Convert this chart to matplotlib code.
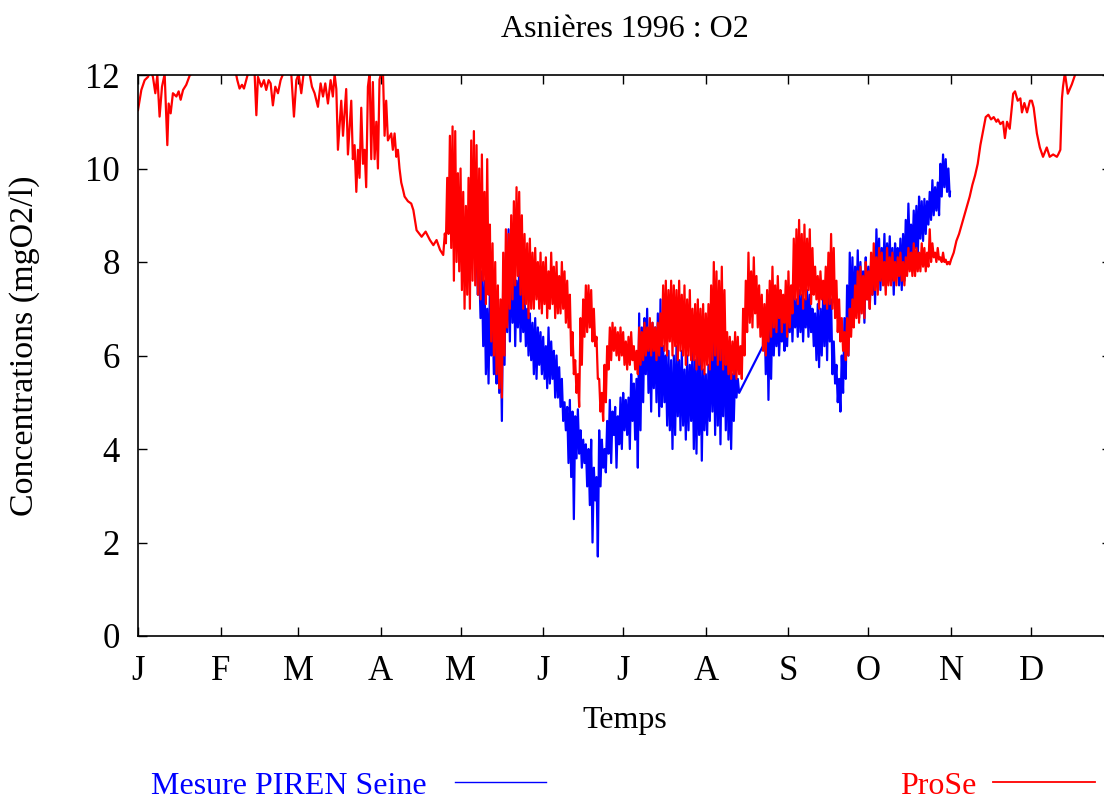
# Asnières 1996 : dissolved oxygen, PIREN Seine measurements vs ProSe model
import numpy as np
import matplotlib.pyplot as plt
from matplotlib.lines import Line2D

plt.rcParams['font.family'] = ['Liberation Serif', 'DejaVu Serif']

# month ticks (day of year 1996, leap year)
month_days = [0, 31, 60, 91, 121, 152, 182, 213, 244, 274, 305, 335]
month_labels = ['J', 'F', 'M', 'A', 'M', 'J', 'J', 'A', 'S', 'O', 'N', 'D']

# ProSe, winter / early spring (day, mgO2/l)
red_early_days = [0, 1.25, 2.5, 3.75, 4.75, 5.6, 6.5, 7.25, 8.1, 9, 10, 11, 11.5, 12.25,
                  13.1, 14.4, 15.25, 16, 16.9, 18.1, 19.4, 20, 21, 24, 28, 32, 33, 34,
                  36.5, 37.25, 38.1, 39, 39.75, 40.6, 41.25, 42.5, 43.75, 44.4, 45, 46.25,
                  47.25, 48.1, 49, 49.75, 50.6, 51.5, 52.5, 53.5, 54.4, 55.5, 57.5, 58.5,
                  59.4, 60.25, 61.25, 62.1, 63.2, 64.4, 65.25, 66.25, 67.5, 68.5, 69.4,
                  70.25, 71.25, 72.25, 73.1, 73.75, 74.4, 75.0, 76.25, 76.9, 78.1, 78.75,
                  80, 80.6, 81.25, 81.9, 82.5, 83.1, 83.75, 84.4, 85, 85.6, 86.25, 86.9,
                  87.5, 88.1, 88.75, 89.4, 90, 90.6, 91.25, 91.9, 92.5, 93.1, 93.75, 95,
                  95.6, 96.25, 96.9, 97.5, 98.1, 98.75, 99.4, 100, 101.25, 102.5, 103.3,
                  104.5, 106.4, 107.9, 109.5, 110.8, 112, 113.3, 114.5, 115.1, 115.5]
red_early_vals = [11.25, 11.68, 11.89, 11.96, 12.1, 11.96, 11.61, 12.0, 11.11, 11.75, 12.02,
                  10.5, 11.39, 11.18, 11.61, 11.54, 11.65, 11.47, 11.68, 11.79, 11.99, 12.02,
                  12.3, 12.5, 12.4, 12.3, 12.05, 12.3, 12.1, 11.89, 11.71, 11.79, 11.71,
                  11.89, 12.02, 12.3, 12.02, 11.14, 11.96, 11.75, 11.89, 11.68, 11.89, 11.82,
                  11.35, 11.75, 11.61, 11.89, 12.02, 12.3, 12.02, 11.11, 11.89, 12.02, 11.61,
                  12.02, 12.3, 12.02, 11.75, 11.61, 11.32, 11.82, 11.54, 11.82, 11.39, 11.89,
                  11.54, 12.02, 11.7, 10.4, 11.45, 10.7, 11.7, 10.3, 11.45, 10.2, 10.5, 9.5,
                  10.4, 9.8, 11.3, 10.1, 10.4, 9.6, 11.75, 12.05, 10.2, 11.85, 10.2, 11.0,
                  10.0, 11.9, 12.05, 12.05, 10.7, 11.45, 10.6, 10.75, 10.4, 10.75, 10.25,
                  10.4, 10.0, 9.7, 9.55, 9.4, 9.3, 9.25, 9.11, 8.68, 8.54, 8.65, 8.47, 8.36,
                  8.47, 8.26, 8.15, 8.61, 8.4]

# ProSe, days 116-304: daily high / low of the day-night cycle
red_first_day = 116
red_hi = [9.8, 10.7, 10.9, 10.8, 9.9, 10.0, 9.5, 9.2, 9.8, 10.6,
          10.8, 10.5, 10.0, 10.3, 9.5, 10.2, 8.8, 8.4, 8.0, 7.5,
          7.2, 8.2, 8.7, 8.6, 9.0, 9.3, 9.6, 9.5, 9.0, 8.6,
          8.4, 8.5, 8.2, 8.3, 8.0, 8.2, 8.0, 8.1, 7.8, 8.2,
          7.9, 8.0, 7.7, 8.0, 7.8, 7.6, 7.3, 6.5, 5.9, 5.6,
          6.8, 7.2, 7.5, 7.5, 7.4, 7.0, 6.4, 5.5, 5.2, 5.8,
          6.2, 6.6, 6.7, 6.6, 6.5, 6.6, 6.5, 6.3, 6.4, 6.5,
          6.2, 6.1, 6.6, 6.5, 6.7, 6.6, 6.8, 6.7, 6.6, 6.7,
          6.9, 7.5, 7.6, 7.4, 7.6, 7.5, 7.4, 7.6, 7.3, 7.5,
          7.2, 7.4, 7.0, 7.1, 7.2, 7.0, 7.1, 6.9, 7.1, 7.5,
          8.0, 7.8, 7.6, 7.9, 7.4, 6.5, 6.4, 6.3, 6.5, 6.4,
          6.2, 7.0, 7.6, 8.2, 7.8, 8.1, 7.7, 7.5, 7.3, 7.1,
          7.4, 7.6, 7.9, 7.5, 7.7, 7.4, 7.3, 7.6, 7.8, 7.5,
          8.5, 8.7, 8.9, 8.6, 8.8, 8.5, 8.7, 8.3, 7.9, 7.7,
          7.8, 7.6, 7.9, 8.2, 8.6, 8.3, 7.6, 7.2, 6.8, 6.5,
          6.8, 7.0, 7.2, 7.5, 7.8, 7.9, 7.7, 8.0, 7.8, 8.2,
          8.4, 8.1, 8.3, 8.2, 8.0, 8.3, 8.1, 8.2, 8.0, 8.1,
          8.2, 8.0, 8.1, 8.3, 8.2, 8.4, 8.3, 8.2, 8.4, 8.3,
          8.2, 8.7, 8.4, 8.2, 8.3, 8.1, 8.2, 8.05, 8.0]
red_lo = [8.6, 8.3, 7.6, 8.0, 7.8, 7.4, 7.0, 7.3, 7.0, 7.6,
          7.5, 7.3, 7.2, 7.6, 7.1, 7.3, 6.3, 6.0, 5.6, 5.3,
          5.1, 6.0, 6.6, 7.0, 7.2, 7.5, 7.7, 7.3, 7.0, 7.1,
          6.8, 7.0, 7.0, 7.2, 7.0, 6.9, 7.1, 6.8, 7.0, 7.1,
          6.8, 6.9, 6.9, 7.0, 6.7, 6.6, 6.0, 5.6, 5.2, 4.9,
          5.8, 6.4, 6.5, 6.6, 6.3, 6.2, 5.5, 4.8, 4.6, 5.0,
          5.7, 5.9, 6.1, 6.0, 5.9, 6.0, 5.8, 5.7, 5.8, 5.9,
          5.7, 5.6, 5.8, 5.9, 6.0, 6.1, 6.0, 6.1, 5.9, 6.0,
          6.2, 6.1, 6.0, 6.3, 6.0, 6.2, 5.9, 6.1, 6.0, 5.8,
          6.0, 5.9, 5.9, 5.7, 5.8, 5.7, 5.6, 5.8, 5.7, 5.9,
          6.0, 5.8, 5.9, 5.7, 5.8, 5.6, 5.5, 5.6, 5.5, 5.6,
          5.5, 6.0, 6.5, 6.7, 6.6, 6.9, 6.6, 6.4, 6.1, 6.0,
          6.3, 6.4, 6.6, 6.5, 6.8, 6.5, 6.7, 6.4, 6.6, 6.9,
          7.2, 7.1, 7.3, 7.0, 7.2, 7.4, 7.1, 7.3, 7.2, 7.0,
          7.2, 7.1, 7.0, 7.1, 7.0, 6.8, 6.5, 6.3, 6.1, 5.9,
          6.0, 6.4, 6.6, 6.8, 6.7, 6.9, 6.8, 7.2, 7.0, 7.3,
          7.4, 7.3, 7.6, 7.5, 7.3, 7.5, 7.5, 7.6, 7.5, 7.7,
          7.6, 7.5, 7.7, 7.8, 7.7, 7.7, 7.8, 7.8, 7.9, 7.8,
          7.9, 8.0, 8.1, 8.0, 8.05, 8.0, 8.0, 7.95, 7.95]

# ProSe, November / December
red_late_days = [305, 306, 307, 308, 309, 310, 311, 312, 313, 314, 315, 316, 317, 318, 319,
                 320, 321, 322, 322.6, 323.5, 324.5, 325.2, 326, 327, 328.3, 329, 330, 331,
                 331.6, 332.5, 333.5, 334.6, 335.3, 336, 337.2, 338.3, 339.5, 340.9, 342,
                 343.3, 344.7, 345.2, 346, 346.6, 347, 347.7, 348.8, 350.3, 351.5, 352.5,
                 355, 358, 361, 364]
red_late_vals = [8.05, 8.2, 8.45, 8.6, 8.8, 9.0, 9.2, 9.4, 9.65, 9.85, 10.1, 10.5, 10.8, 11.1,
                 11.15, 11.05, 11.1, 11.0, 11.05, 10.95, 11.0, 10.65, 11.0, 10.85, 11.6, 11.65,
                 11.45, 11.5, 11.2, 11.4, 11.2, 11.45, 11.45, 11.3, 10.75, 10.45, 10.25, 10.45,
                 10.25, 10.3, 10.25, 10.3, 10.4, 11.5, 11.75, 12.05, 11.6, 11.8, 12.0, 12.3,
                 12.5, 12.4, 12.6, 12.5]

# Mesure PIREN Seine: first reading, then daily high / low (two runs around a gap)
blue_start = (126.5, 8.0)
blue_first_day_a = 127
blue_hi_a = [8.2, 7.9, 7.8, 7.6, 7.0, 7.4, 7.0, 6.6, 7.2, 6.7,
             7.6, 8.2, 8.7, 8.4, 8.0, 7.6, 7.9, 7.5, 7.3, 7.0,
             6.9, 6.7, 6.8, 6.6, 6.5, 6.4, 6.2, 6.6, 6.3, 6.1,
             6.0, 5.75, 5.5, 5.0, 4.9, 5.05, 4.8, 4.7, 4.85, 4.4,
             4.2, 4.1, 4.0, 4.2, 3.6, 3.4, 4.4, 4.2, 4.0, 4.6,
             5.05, 4.8, 4.9, 4.7, 5.1, 5.2, 5.05, 5.1, 5.6, 5.4,
             5.5, 6.9, 6.6, 6.8, 7.0, 6.6, 6.7, 6.6, 6.9, 7.2,
             6.2, 6.0, 6.1, 5.9, 6.0, 6.2, 5.9, 6.1, 5.7, 6.0,
             5.8, 6.2, 5.9, 6.0, 6.1, 5.7, 5.6, 5.8, 6.3, 6.7,
             6.5, 6.4, 6.2, 6.75, 6.3, 5.7, 5.6, 5.7, 5.5]
blue_lo_a = [7.3, 6.8, 6.2, 5.6, 5.4, 6.0, 5.6, 5.4, 5.2, 4.6,
             5.8, 6.5, 6.3, 6.7, 6.2, 6.6, 6.3, 6.5, 6.2, 6.0,
             5.9, 5.6, 5.5, 5.8, 5.6, 5.5, 5.3, 5.4, 5.5, 5.1,
             5.1, 4.9, 4.6, 4.4, 3.7, 3.4, 2.5, 3.8, 3.9, 3.6,
             3.7, 3.2, 2.8, 2.0, 2.9, 1.7, 3.2, 3.6, 3.5, 3.9,
             3.7, 4.3, 3.6, 4.1, 4.0, 4.4, 4.3, 4.0, 4.6, 4.2,
             3.6, 4.4, 5.0, 5.6, 5.2, 4.8, 5.3, 5.0, 4.7, 4.9,
             5.0, 4.5, 4.4, 4.0, 4.3, 4.7, 4.4, 4.5, 4.2, 4.4,
             4.6, 4.0, 3.9, 4.3, 3.75, 4.4, 4.3, 4.6, 4.8, 4.3,
             4.5, 4.1, 4.7, 4.4, 4.2, 4.0, 4.6, 5.1, 5.2]
blue_restart = (234.4, 6.2)
blue_first_day_b = 235
blue_hi_b = [7.0, 7.2, 6.8, 7.1, 6.9, 7.0, 6.8, 6.7, 7.0, 7.2,
             7.4, 7.3, 7.2, 7.4, 7.3, 7.2, 7.4, 7.3, 7.0, 6.9,
             7.1, 7.0, 7.3, 7.5, 7.6, 7.2, 6.3, 5.8, 5.5, 6.0,
             6.8, 7.5, 8.2, 8.1, 7.9, 8.25, 8.0, 7.8, 8.1, 7.9,
             8.0, 8.2, 8.7, 8.5, 8.3, 8.6, 8.4, 8.55, 8.3, 8.4,
             8.3, 8.5, 8.6, 8.9, 9.25, 8.8, 9.1, 9.2, 9.4, 9.3,
             9.35, 9.3, 9.5, 9.75, 9.6, 9.7, 10.1, 10.3, 10.2, 10.0]
blue_lo_b = [5.6, 5.05, 5.5, 6.0, 6.2, 6.0, 6.3, 6.1, 6.2, 6.5,
             6.3, 6.6, 6.4, 6.5, 6.3, 6.6, 6.4, 6.5, 6.2, 5.9,
             5.75, 6.0, 6.2, 5.9, 6.3, 5.6, 5.4, 5.0, 4.8, 5.2,
             5.5, 6.0, 6.6, 6.7, 7.0, 6.8, 7.1, 6.7, 7.2, 7.0,
             7.3, 7.1, 7.6, 7.4, 7.6, 7.5, 7.7, 7.6, 7.3, 7.8,
             7.5, 7.4, 7.6, 8.0, 8.2, 8.1, 8.3, 8.0, 8.5, 8.45,
             8.6, 8.8, 8.9, 9.0, 9.1, 9.0, 9.4, 9.6, 9.5, 9.4]
blue_end = (304.6, 9.5)


def zigzag(first_day, hi, lo):
    # high at the start of each day, low half a day later
    d = first_day + np.arange(len(hi))
    x = np.column_stack([d, d + 0.5]).ravel()
    y = np.column_stack([hi, lo]).ravel()
    return x, y


rx, ry = zigzag(red_first_day, red_hi, red_lo)
red_x = np.concatenate([red_early_days, rx, red_late_days])
red_y = np.concatenate([red_early_vals, ry, red_late_vals])

bxa, bya = zigzag(blue_first_day_a, blue_hi_a, blue_lo_a)
bxb, byb = zigzag(blue_first_day_b, blue_hi_b, blue_lo_b)
blue_x = np.concatenate([[blue_start[0]], bxa, [blue_restart[0]], bxb, [blue_end[0]]])
blue_y = np.concatenate([[blue_start[1]], bya, [blue_restart[1]], byb, [blue_end[1]]])

W, H = 1104, 801
fig = plt.figure(figsize=(W / 100, H / 100), dpi=100)
# plot frame runs a little past the right edge of the image
left, right, top, bottom = 138, 1111, 75, 636
ax = fig.add_axes([left / W, 1 - bottom / H, (right - left) / W, (bottom - top) / H])

ax.plot(blue_x, blue_y, color='#0000ff', lw=1.6)
ax.plot(red_x, red_y, color='#ff0000', lw=1.6)

ax.set_xlim(0, 365)
ax.set_ylim(0, 12)
ax.set_xticks(month_days)
ax.set_xticklabels(month_labels)
ax.set_yticks(range(0, 13, 2))
ax.tick_params(direction='in', length=6.5, width=1.0, top=True, right=True,
               labelsize=25)
ax.tick_params(axis='x', pad=14)
ax.tick_params(axis='y', pad=13)
for s in ax.spines.values():
    s.set_linewidth(1.2)

fs = 23
fig.text((left + right) / 2 / W, 1 - 37 / H, 'Asnières 1996 : O2', ha='center',
         va='baseline', fontsize=fs)
fig.text((left + right) / 2 / W, 1 - 728 / H, 'Temps', ha='center', va='baseline',
         fontsize=fs)
fig.text(25 / W, 1 - 346 / H, 'Concentrations (mgO2/l)', rotation=90, ha='center',
         va='center', fontsize=24.5)

# key below the plot
fig.text(427 / W, 1 - 794 / H, 'Mesure PIREN Seine', ha='right', va='baseline',
         fontsize=fs, color='#0000ff')
fig.add_artist(Line2D([455 / W, 546 / W], [1 - 782 / H, 1 - 782 / H], color='#0000ff',
                      lw=1.0))
fig.text(976 / W, 1 - 794 / H, 'ProSe', ha='right', va='baseline', fontsize=fs,
         color='#ff0000')
fig.add_artist(Line2D([993 / W, 1095 / W], [1 - 782 / H, 1 - 782 / H], color='#ff0000',
                      lw=1.3))

fig.savefig('out.png', dpi=100)
